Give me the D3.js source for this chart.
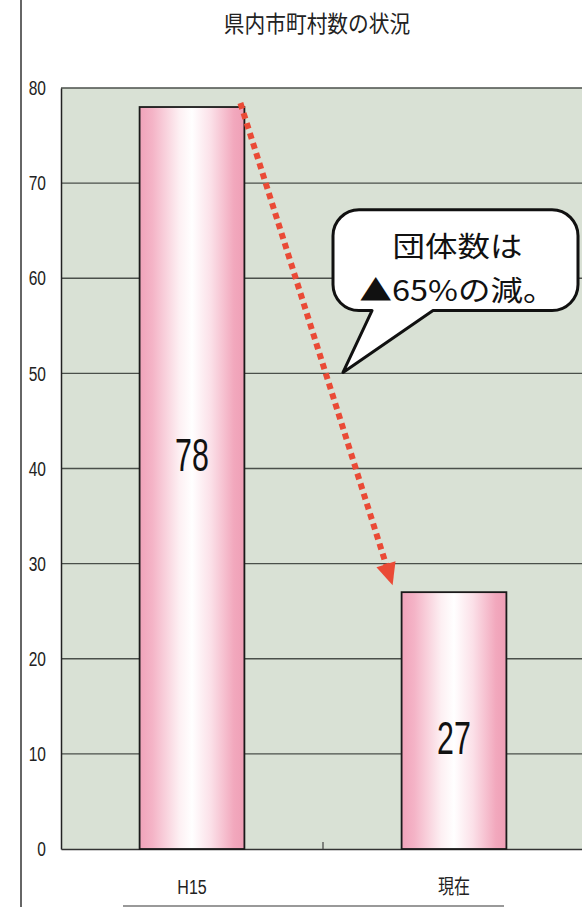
<!DOCTYPE html>
<html>
<head>
<meta charset="utf-8">
<script src="https://cdn.jsdelivr.net/npm/d3@7"></script>
<style>
  html, body { margin: 0; padding: 0; background: #fff; }
  svg { display: block; }
</style>
</head>
<body>
<svg id="chart" width="582" height="907"></svg>
<script>
// Number of municipalities in the prefecture
const categories = ["H15", "現在"];
const counts = [78, 27];
const yTicks = [0, 10, 20, 30, 40, 50, 60, 70, 80];
const title = "県内市町村数の状況";
const calloutLines = ["団体数は", "▲65%の減。"];

const svg = d3.select("#chart");
const W = 582, H = 907;
const plot = { left: 61, right: 585, top: 88, bottom: 849 };

const x = d3.scaleBand().domain(categories).range([plot.left, plot.right])
  .paddingInner(0.6).paddingOuter(0.3);
const y = d3.scaleLinear().domain([0, 80]).range([plot.bottom, plot.top]);

const narrow = "'Liberation Sans Narrow', 'Liberation Sans', Arial, sans-serif";
const jp = "'Noto Sans CJK JP', 'Noto Sans', sans-serif";

const defs = svg.append("defs");
const grad = defs.append("linearGradient").attr("id", "barFill")
  .attr("x1", "0%").attr("x2", "100%").attr("y1", "0%").attr("y2", "0%");
[[0, "#f1a3ba"], [0.12, "#f4b3c6"], [0.38, "#fdf0f3"], [0.5, "#ffffff"],
 [0.68, "#fbe0e8"], [0.9, "#f2a8bd"], [1, "#ef9fb6"]]
  .forEach(([o, c]) => grad.append("stop").attr("offset", o).attr("stop-color", c));

// outer frame line on the left
svg.append("line").attr("x1", 21).attr("x2", 21).attr("y1", 0).attr("y2", H)
  .attr("stroke", "#333").attr("stroke-width", 1.5);
// short rule under the category labels
svg.append("line").attr("x1", 123).attr("x2", 504).attr("y1", 906).attr("y2", 906)
  .attr("stroke", "#777").attr("stroke-width", 1.5);

// title (slightly condensed)
svg.append("text")
  .attr("transform", "translate(317,32) scale(0.9,1)")
  .attr("text-anchor", "middle")
  .attr("font-family", jp).attr("font-size", 23).attr("fill", "#222")
  .text(title);

// plot background
svg.append("rect")
  .attr("x", plot.left).attr("y", plot.top)
  .attr("width", plot.right - plot.left).attr("height", plot.bottom - plot.top)
  .attr("fill", "#d9e1d5");

// gridlines
svg.append("g").selectAll("line").data(yTicks.filter(d => d > 0)).join("line")
  .attr("x1", plot.left).attr("x2", plot.right)
  .attr("y1", d => y(d)).attr("y2", d => y(d))
  .attr("stroke", "#4a4f4a").attr("stroke-width", 1.3);

// y axis
const yAxis = svg.append("g")
  .attr("transform", `translate(${plot.left},0)`)
  .call(d3.axisLeft(y).tickValues(yTicks).tickSize(0).tickPadding(15));
yAxis.select(".domain").attr("stroke", "#222").attr("stroke-width", 1.5);
yAxis.selectAll(".tick text")
  .attr("font-family", narrow).attr("font-size", 21).attr("fill", "#222")
  .each(function () {
    // condense the tick digits horizontally around their right edge
    const t = d3.select(this);
    const xx = +t.attr("x");
    t.attr("transform", `translate(${xx},0) scale(0.74,1) translate(${-xx},0)`);
  });

// x axis
const xAxis = svg.append("g")
  .attr("transform", `translate(0,${plot.bottom})`)
  .call(d3.axisBottom(x).tickSize(0).tickPadding(31));
xAxis.select(".domain").attr("stroke", "#333").attr("stroke-width", 1.5);
xAxis.selectAll(".tick").each(function (d) {
  const cx = x(d) + x.bandwidth() / 2;
  d3.select(this).attr("transform", `translate(${cx},0) scale(0.8,1)`);
});
xAxis.selectAll(".tick text")
  .attr("font-size", 20).attr("fill", "#222")
  .attr("font-family", d => /^[A-Za-z0-9]+$/.test(d) ? narrow : jp);

// category divider tick
const mid = (x(categories[0]) + x(categories[1]) + x.bandwidth()) / 2;
svg.append("line").attr("x1", mid).attr("x2", mid)
  .attr("y1", plot.bottom - 7).attr("y2", plot.bottom)
  .attr("stroke", "#444").attr("stroke-width", 1.2);

// bars
svg.append("g").selectAll("rect").data(counts).join("rect")
  .attr("x", (d, i) => x(categories[i]))
  .attr("y", d => y(d))
  .attr("width", x.bandwidth())
  .attr("height", d => y(0) - y(d))
  .attr("fill", "url(#barFill)")
  .attr("stroke", "#1a1a1a").attr("stroke-width", 1.8);

// value labels inside bars (baseline as a fraction of bar height from the top)
const labelFrac = [0.49, 0.63];
svg.append("g").selectAll("text").data(counts).join("text")
  .attr("text-anchor", "middle")
  .attr("font-family", narrow).attr("font-size", 46).attr("fill", "#111")
  .attr("transform", (d, i) => {
    const cx = x(categories[i]) + x.bandwidth() / 2;
    const cy = y(d) + (y(0) - y(d)) * labelFrac[i];
    return `translate(${cx},${cy}) scale(0.66,1)`;
  })
  .text(d => d);

// dotted decrease arrow from the first bar to the second
const x0 = x(categories[0]) + x.bandwidth() - 4, y0 = y(counts[0]) - 4;
const x1 = x(categories[1]) - 9, y1 = y(counts[1]) - 7;
const ang = Math.atan2(y1 - y0, x1 - x0);
const headLen = 22, headW = 10;
const bx = x1 - headLen * Math.cos(ang), by = y1 - headLen * Math.sin(ang);
const arrowColor = "#ea4a36";
svg.append("line")
  .attr("x1", x0).attr("y1", y0).attr("x2", bx + 2 * Math.cos(ang)).attr("y2", by + 2 * Math.sin(ang))
  .attr("stroke", arrowColor).attr("stroke-width", 6)
  .attr("stroke-dasharray", "6,4.5");
const px = -Math.sin(ang), py = Math.cos(ang);
svg.append("path")
  .attr("d", `M${x1},${y1} L${bx + px * headW},${by + py * headW} L${bx - px * headW},${by - py * headW} Z`)
  .attr("fill", arrowColor);

// speech-bubble callout
const bL = 333, bR = 578, bT = y(67.2), bB = y(56.6), r = 26;
const tipX = 343, tipY = y(50.1), tailA = 372, tailB = 433;
const bubble = d3.path();
bubble.moveTo(bL + r, bT);
bubble.lineTo(bR - r, bT);
bubble.arcTo(bR, bT, bR, bT + r, r);
bubble.lineTo(bR, bB - r);
bubble.arcTo(bR, bB, bR - r, bB, r);
bubble.lineTo(tailB, bB);
bubble.lineTo(tipX, tipY);
bubble.lineTo(tailA, bB);
bubble.lineTo(bL + r, bB);
bubble.arcTo(bL, bB, bL, bB - r, r);
bubble.lineTo(bL, bT + r);
bubble.arcTo(bL, bT, bL + r, bT, r);
bubble.closePath();
svg.append("path").attr("d", bubble.toString())
  .attr("fill", "#fff").attr("stroke", "#111").attr("stroke-width", 3)
  .attr("stroke-linejoin", "round");

svg.append("g").selectAll("text").data(calloutLines).join("text")
  .attr("transform", (d, i) => `translate(${(bL + bR) / 2 + 2},${257 + i * 44}) scale(1.12,1)`)
  .attr("text-anchor", "middle")
  .attr("font-family", jp).attr("font-size", 29).attr("fill", "#111")
  .text(d => d);
</script>
</body>
</html>
